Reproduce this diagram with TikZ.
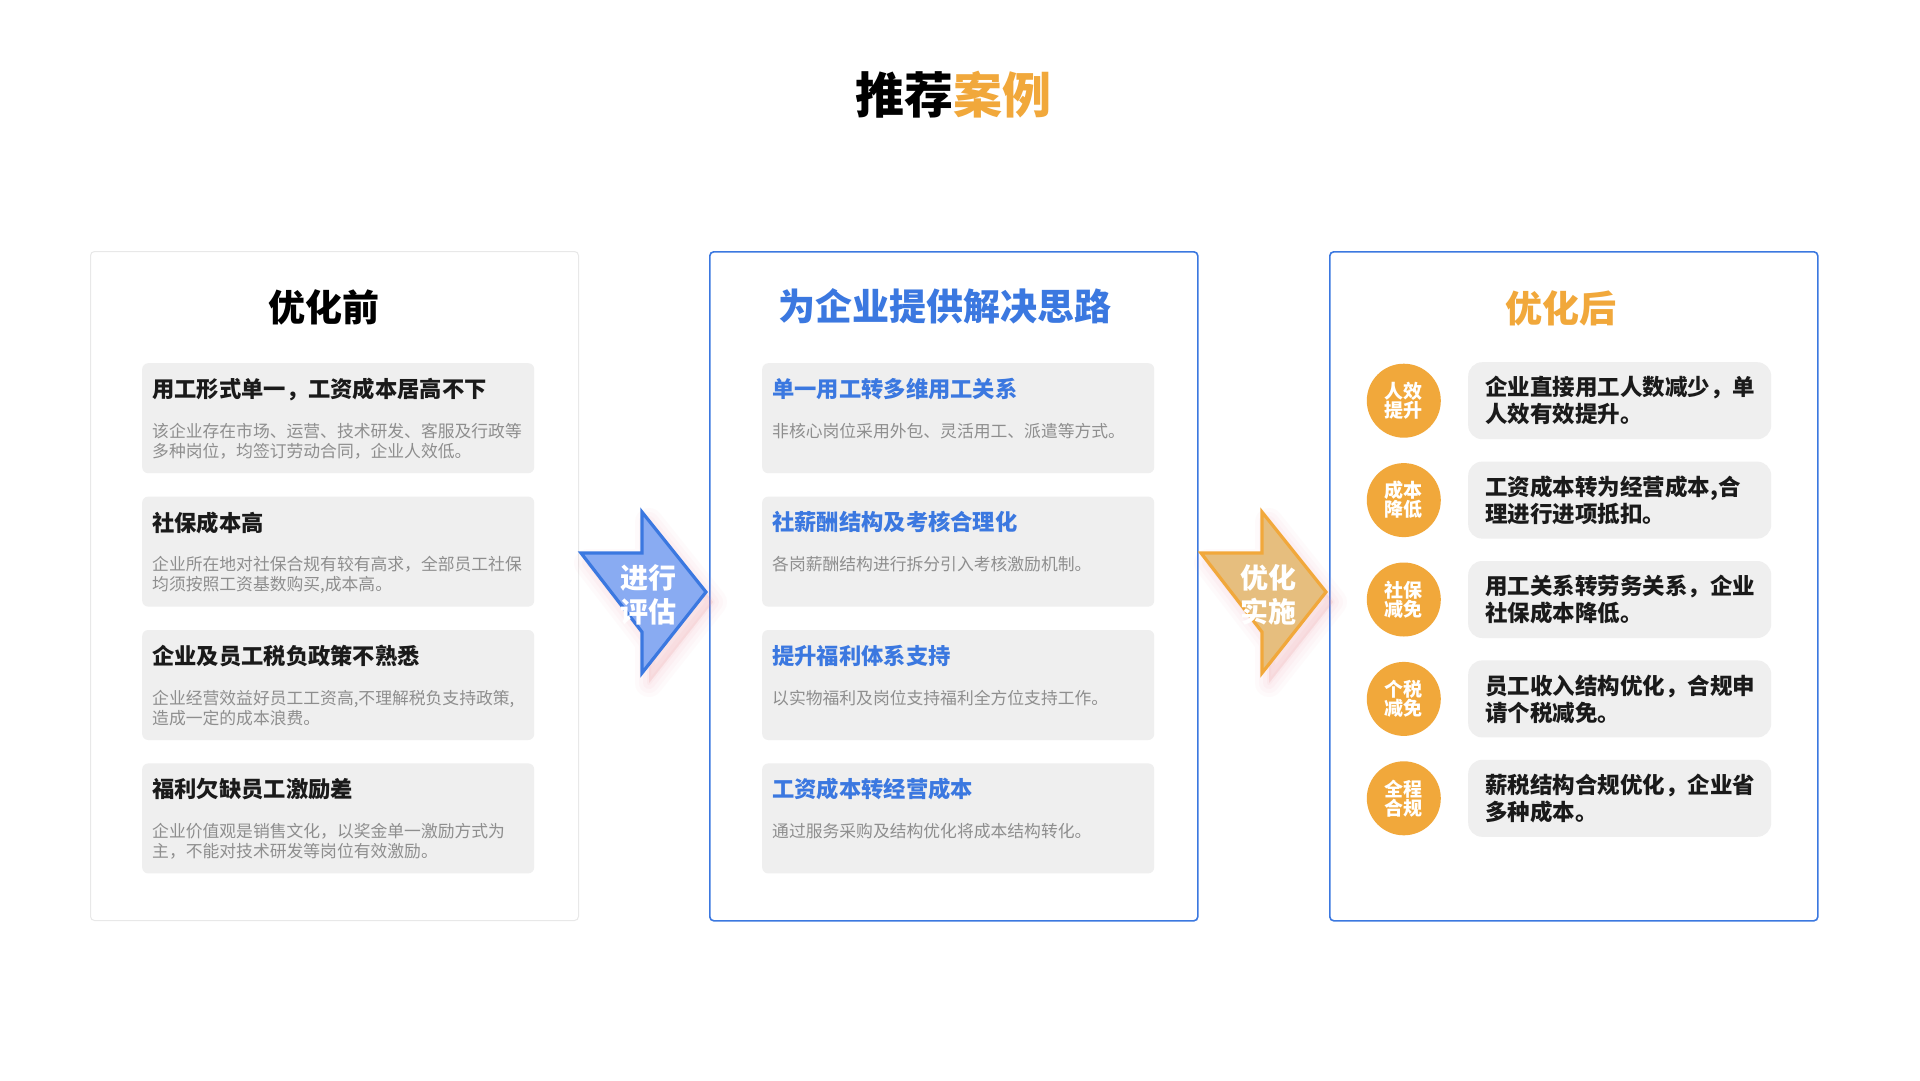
\documentclass[tikz,border=0pt]{standalone}
\usepackage{fontspec}
\setmainfont{Noto Sans CJK SC}
\usetikzlibrary{positioning}
\definecolor{brandblue}{HTML}{3B78E0}
\definecolor{brandorange}{HTML}{F1A83B}
\definecolor{cardgray}{HTML}{EFEFEF}
\definecolor{textgray}{HTML}{8E8E8E}
\definecolor{inkblack}{HTML}{1A1A1A}
\definecolor{paleblue}{HTML}{89ABF2}
\definecolor{paletan}{HTML}{E6BE7E}
\definecolor{glowpink}{HTML}{F28C98}
\tikzstyle{panel}=[draw, rounded corners=4pt, line width=1.6pt, minimum width=488pt, minimum height=669pt, anchor=north west, inner sep=0pt]
\tikzstyle{plain panel}=[panel, draw=black!9, line width=1pt]
\tikzstyle{blue panel}=[panel, draw=brandblue]
\tikzstyle{panel title}=[inner sep=0pt, font=\fontsize{37}{40}\selectfont\bfseries]
\tikzstyle{card}=[fill=cardgray, rounded corners=6pt, minimum width=392pt, minimum height=110pt, inner sep=0pt]
\tikzstyle{short card}=[card, minimum width=303pt, minimum height=77pt, rounded corners=14pt]
\tikzstyle{card title}=[anchor=north west, inner sep=0pt, text=inkblack, font=\fontsize{22.3}{26}\selectfont\bfseries]
\tikzstyle{card text}=[anchor=north west, inner sep=0pt, align=left, text=textgray, font=\fontsize{16.8}{20}\selectfont]
\tikzstyle{result text}=[anchor=west, inner sep=0pt, align=left, text=inkblack, font=\fontsize{22.5}{27}\selectfont\bfseries]
\tikzstyle{badge}=[circle, fill=brandorange, minimum size=74pt, inner sep=0pt, text=white, align=center, font=\fontsize{19}{19}\selectfont\bfseries]
\tikzstyle{step arrow}=[line width=3.2pt, line join=miter]
\tikzstyle{arrow glow}=[glowpink, line join=round]
\tikzstyle{arrow label}=[inner sep=0pt, align=center, text=white, font=\fontsize{28}{34}\selectfont\bfseries]

\begin{document}
\begin{tikzpicture}[x=1pt, y=-1pt]
  \useasboundingbox[fill=white] (0,0) rectangle (1920,1080);

  \node[inner sep=0pt, font=\fontsize{49}{52}\selectfont\bfseries] (title) at (953,95)
    {推荐\textcolor{brandorange}{案例}};

  % before
  \node[plain panel] (before) at (90,251) {};
  \node[panel title] (before title) at ([shift={(-11,56)}]before.north) {优化前};
  \node[card, anchor=north west, below right=112pt and 52pt of before.north west] (b1) {};
  \node[card, anchor=north west, below=23pt of b1] (b2) {};
  \node[card, anchor=north west, below=23pt of b2] (b3) {};
  \node[card, anchor=north west, below=23pt of b3] (b4) {};
  \node[card title] (b1 title) at ([shift={(10,15)}]b1.north west) {用工形式单一，工资成本居高不下};
  \node[card text] (b1 text) at ([shift={(10,60)}]b1.north west)
    {该企业存在市场、运营、技术研发、客服及行政等\\多种岗位，均签订劳动合同，企业人效低。};
  \node[card title] (b2 title) at ([shift={(10,15)}]b2.north west) {社保成本高};
  \node[card text] (b2 text) at ([shift={(10,60)}]b2.north west)
    {企业所在地对社保合规有较有高求，全部员工社保\\均须按照工资基数购买,成本高。};
  \node[card title] (b3 title) at ([shift={(10,15)}]b3.north west) {企业及员工税负政策不熟悉};
  \node[card text] (b3 text) at ([shift={(10,60)}]b3.north west)
    {企业经营效益好员工工资高,不理解税负支持政策,\\造成一定的成本浪费。};
  \node[card title] (b4 title) at ([shift={(10,15)}]b4.north west) {福利欠缺员工激励差};
  \node[card text] (b4 text) at ([shift={(10,60)}]b4.north west)
    {企业价值观是销售文化，以奖金单一激励方式为\\主，不能对技术研发等岗位有效激励。};

  % solution
  \node[blue panel] (solve) at (709,251) {};
  \node[panel title, text=brandblue] (solve title) at ([shift={(-9,55)}]solve.north) {为企业提供解决思路};
  \node[card, anchor=north west, below right=112pt and 53pt of solve.north west] (m1) {};
  \node[card, anchor=north west, below=23pt of m1] (m2) {};
  \node[card, anchor=north west, below=23pt of m2] (m3) {};
  \node[card, anchor=north west, below=23pt of m3] (m4) {};
  \node[card title, text=brandblue] (m1 title) at ([shift={(10,15)}]m1.north west) {单一用工转多维用工关系};
  \node[card text] (m1 text) at ([shift={(10,60)}]m1.north west) {非核心岗位采用外包、灵活用工、派遣等方式。};
  \node[card title, text=brandblue] (m2 title) at ([shift={(10,15)}]m2.north west) {社薪酬结构及考核合理化};
  \node[card text] (m2 text) at ([shift={(10,60)}]m2.north west) {各岗薪酬结构进行拆分引入考核激励机制。};
  \node[card title, text=brandblue] (m3 title) at ([shift={(10,15)}]m3.north west) {提升福利体系支持};
  \node[card text] (m3 text) at ([shift={(10,60)}]m3.north west) {以实物福利及岗位支持福利全方位支持工作。};
  \node[card title, text=brandblue] (m4 title) at ([shift={(10,15)}]m4.north west) {工资成本转经营成本};
  \node[card text] (m4 text) at ([shift={(10,60)}]m4.north west) {通过服务采购及结构优化将成本结构转化。};

  % after
  \node[blue panel] (after) at (1329,251) {};
  \node[panel title, text=brandorange] (after title) at ([shift={(-13,57)}]after.north) {优化后};
  \node[short card, anchor=north west, below right=111pt and 139pt of after.north west] (a1) {};
  \node[short card, anchor=north west, below=22pt of a1] (a2) {};
  \node[short card, anchor=north west, below=22pt of a2] (a3) {};
  \node[short card, anchor=north west, below=22pt of a3] (a4) {};
  \node[short card, anchor=north west, below=22pt of a4] (a5) {};
  \node[badge, left=27pt of a1] (a1 badge) {人效\\提升};
  \node[badge, left=27pt of a2] (a2 badge) {成本\\降低};
  \node[badge, left=27pt of a3] (a3 badge) {社保\\减免};
  \node[badge, left=27pt of a4] (a4 badge) {个税\\减免};
  \node[badge, left=27pt of a5] (a5 badge) {全程\\合规};
  \node[result text] (a1 text) at ([xshift=17pt]a1.west) {企业直接用工人数减少，单\\人效有效提升。};
  \node[result text] (a2 text) at ([xshift=17pt]a2.west) {工资成本转为经营成本,合\\理进行进项抵扣。};
  \node[result text] (a3 text) at ([xshift=17pt]a3.west) {用工关系转劳务关系，企业\\社保成本降低。};
  \node[result text] (a4 text) at ([xshift=17pt]a4.west) {员工收入结构优化，合规申\\请个税减免。};
  \node[result text] (a5 text) at ([xshift=17pt]a5.west) {薪税结构合规优化，企业省\\多种成本。};

  % arrows between the panels, with a soft pink glow
  \foreach \name/\x/\edge/\body/\txt in {eval/581/brandblue/paleblue/{进行\\评估},
                                        apply/1201/brandorange/paletan/{优化\\实施}} {
    \coordinate (\name start) at (\x,553);
    \foreach \w/\o in {28/0.035, 20/0.04, 12/0.05, 4/0.06}
      \filldraw[arrow glow, opacity=\o, line width=\w pt]
        ([shift={(7,10)}]\name start) -- ++(61,0) -- ++(0,-41) -- ++(64,80) -- ++(-64,81) -- ++(0,-41) -- cycle;
    \draw[step arrow, draw=\edge, fill=\body]
      (\name start) -- ++(61,0) -- ++(0,-41) -- ++(64,80) -- ++(-64,81) -- ++(0,-41) -- cycle;
    \node[arrow label] (\name label) at ([shift={(67,42)}]\name start) {\txt};
  }
\end{tikzpicture}
\end{document}
